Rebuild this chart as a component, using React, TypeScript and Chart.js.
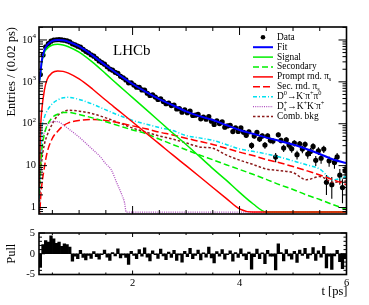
import React, { useEffect, useRef } from 'react';
import { Chart, registerables } from 'chart.js';

Chart.register(...registerables);

const FONT = "'Liberation Serif', 'Times New Roman', Times, serif";

// ---------- top panel: fit components (Entries / 0.02 ps) ----------
const CURVE_T = [0.25, 0.28, 0.3, 0.35, 0.4, 0.5, 0.6, 0.7, 0.8, 1.0, 1.25, 1.5, 1.75, 2.0, 2.25, 2.5, 2.75, 3.0, 3.25, 3.5, 3.75, 4.0, 4.25, 4.5, 4.75, 5.0, 5.25, 5.5, 5.75, 6.0];
const FIT = [950, 1800, 3100, 5700, 7500, 9500, 10000, 9800, 9100, 7000, 4300, 2450, 1460, 890, 575, 386, 276, 198, 152, 123, 93, 71, 57.5, 46.7, 38.8, 32, 25, 19, 14, 11.5];
const SIGNAL = [900, 1600, 2800, 5000, 6300, 7600, 7900, 7600, 6900, 5100, 2950, 1550, 800, 420, 220, 115, 60, 32, 16.6, 8.5, 4.5, 2.3, 1.23, 0.78, 0.78, 0.78, 0.78, 0.78, 0.78, 0.78];
const SECONDARY = [2, 10, 22, 56, 89, 141, 170, 186, 186, 166, 138, 112, 89, 71, 58, 43, 32, 24, 18, 13.8, 10.5, 8.1, 6.2, 4.7, 3.5, 2.7, 2.0, 1.55, 1.17, 0.9];
const PROMPT_RND = [3, 80, 200, 630, 1120, 1660, 1820, 1780, 1620, 1175, 676, 363, 200, 110, 60, 33, 18, 10, 5.5, 3.0, 1.66, 0.93, 0.78, 0.78, 0.78, 0.78, 0.78, 0.78, 0.78, 0.78];
const SEC_RND = [0.3, 1.6, 3.2, 9, 20, 45, 66, 89, 105, 120, 126, 120, 105, 89, 76, 63, 54, 45, 38, 32, 26, 21, 17.4, 14, 11.7, 9.5, 7.6, 6.0, 4.6, 3.5];
const D0_KPIPI0 = [1, 16, 63, 141, 200, 300, 370, 417, 427, 380, 295, 214, 158, 120, 98, 81, 69, 52, 46, 40, 32, 25, 22, 19, 16, 13, 10.5, 8.3, 4.6, 5.5];
const COMB_BKG = [0.5, 6, 12.6, 32, 52, 100, 158, 190, 209, 200, 174, 138, 105, 79, 63, 51, 43, 35, 28, 26, 18, 13.5, 10.7, 8.3, 7.6, 6.8, 4.6, 5.5, 4.0, 4.3];
const DS_T = [0.25, 0.28, 0.3, 0.35, 0.4, 0.5, 0.6, 0.7, 0.8, 1.0, 1.2, 1.4, 1.5, 1.6, 1.7, 1.8, 1.85, 1.88, 6.0];
const DS_KKPI = [2, 16, 32, 63, 89, 112, 112, 95, 76, 48, 28, 16, 11, 8, 4, 2, 1.3, 0.78, 0.78];

// ---------- data histogram and pulls ----------
const BIN_START = 0.25;
const BIN_WIDTH = 0.05;
const DATA = [1497, 4363, 6829, 8210, 9367, 9983, 10129, 10229, 10019, 9845,
  9482, 8960, 8077, 7677, 7118, 6725, 5970, 5369, 4952, 4436,
  4092, 3588, 3166, 2889, 2636, 2291, 2027, 1903, 1689, 1587,
  1353, 1249, 1110, 947, 952, 839, 747, 742, 640, 635,
  534, 473, 487, 432, 380, 395, 340, 302, 312, 271,
  280, 225, 229, 189, 214, 183, 201, 158, 160, 167,
  131, 145, 128, 149, 115, 96, 118, 101, 111, 83,
  88.5, 92, 65, 79.5, 65.2, 79.5, 62.6, 52.8, 64.4, 30.3,
  51.2, 62, 43.2, 51.1, 31, 51.2, 40.2, 38.7, 16, 54.6,
  40, 26.3, 41.1, 31, 25.2, 34.6, 18.3, 33.1, 24.8, 32.2,
  18.9, 21.6, 28.8, 13.4, 22.6, 15, 24.9, 4, 13, 3.5,
  11.9, 16.1, 5.9, 3, 7.6];
const PULL = [-3.3, 2.2, 3.2, 2.8, 4.3, 3.6, 2.5, 2.8, 1.8, 2.4,
  2.2, 1.6, -1.8, -0.6, -1.2, 0.8, -0.9, -1.5, -0.4, -1.1,
  0.5, -0.7, -1.3, -0.2, 0.9, -0.8, -1.6, 0.3, -0.5, 1.2,
  -1.0, -0.3, -0.9, -2.6, 0.6, -0.4, -1.2, 1.0, -0.6, 1.4,
  -0.8, -1.7, 0.7, -0.2, -1.1, 1.1, -0.5, -1.4, 0.4, -0.9,
  0.8, -1.6, -0.3, -2.0, 0.6, -0.7, 1.3, -1.2, -0.4, 0.9,
  -1.5, 0.2, -0.8, 1.6, -1.0, -2.2, 0.5, -0.6, 1.0, -1.3,
  -0.2, 0.7, -1.8, 0.3, -0.9, 1.2, -0.5, -1.4, 0.4, -3.7,
  -0.7, 1.1, -1.2, 0.2, -2.4, 0.8, -0.6, -0.6, -3.9, 2.4,
  0.3, -1.7, 1.0, -0.5, -1.3, 0.6, -2.1, 0.9, -0.4, 1.3,
  -1.1, -0.3, 1.5, -1.6, 0.7, -0.8, 1.8, -3.4, -0.6, -3.8,
  -0.5, 0.8, -1.9, -3.6, -1.2];

// ---------- axes ----------
const X_MIN = 0.25;
const X_MAX = 6;
const Y_MIN = 0.72;
const Y_MAX = 20400;
const PULL_MIN = -5;
const PULL_MAX = 5;
const X_TICKS = [2, 4, 6];
const X_TICK_LABELS = ['2', '4', '6'];
const X_MINOR = [0.5, 1, 1.5, 2.5, 3, 3.5, 4.5, 5, 5.5];
const Y_TICKS = [1, 10, 100, 1000, 10000];
const Y_TICK_LABELS = ['1', '10', '10^{2}', '10^{3}', '10^{4}'];
const PULL_TICKS = [-5, 0, 5];
const PULL_TICK_LABELS = ['-5', '0', '5'];
const PULL_MINOR = [-4, -3, -2, -1, 1, 2, 3, 4];
const Y_TITLE = 'Entries / (0.02 ps)';
const PULL_TITLE = 'Pull';
const X_TITLE = 't [ps]';
const EXPERIMENT = 'LHCb';

const LEGEND_LABELS = ['Data', 'Fit', 'Signal', 'Secondary', 'Prompt rnd. \u03c0_{s}', 'Sec. rnd. \u03c0_{s}',
  'D^{0}\u2192K^{-}\u03c0^{+}\u03c0^{0}', 'D_{s}^{+}\u2192K^{+}K^{-}\u03c0^{+}', 'Comb. bkg'];

const Y_MINOR: number[] = [];
for (const d of [0.1, 1, 10, 100, 1000, 10000]) {
  for (let k = 2; k <= 9; k++) {
    const v = k * d;
    if (v > Y_MIN && v < Y_MAX) Y_MINOR.push(v);
  }
}

const binCenter = (i: number) => BIN_START + BIN_WIDTH * (i + 0.5);

// ---------- rich text (sup / sub) ----------
type Seg = { t: string; k: 'n' | 'sup' | 'sub' };
function parseRich(s: string): Seg[] {
  const out: Seg[] = [];
  let buf = '';
  let i = 0;
  while (i < s.length) {
    const c = s[i];
    if ((c === '^' || c === '_') && s[i + 1] === '{') {
      if (buf) { out.push({ t: buf, k: 'n' }); buf = ''; }
      const end = s.indexOf('}', i + 2);
      out.push({ t: s.slice(i + 2, end), k: c === '^' ? 'sup' : 'sub' });
      i = end + 1;
    } else {
      buf += c;
      i++;
    }
  }
  if (buf) out.push({ t: buf, k: 'n' });
  return out;
}
function drawRich(ctx: CanvasRenderingContext2D, s: string, x: number, y: number, size: number, align: string) {
  const segs = parseRich(s);
  const small = size * 0.68;
  const items: any[] = [];
  let cx = 0;
  segs.forEach((sg, j) => {
    const fs = sg.k === 'n' ? size : small;
    ctx.font = `${fs}px ${FONT}`;
    const w = ctx.measureText(sg.t).width;
    if (sg.k === 'sup' && j > 0 && segs[j - 1].k === 'sub') {
      const prev = items[items.length - 1];
      items.push({ sg, fs, x: prev.x });
      cx = Math.max(cx, prev.x + w);
    } else {
      items.push({ sg, fs, x: cx });
      cx += w;
    }
  });
  const x0 = align === 'right' ? x - cx : align === 'center' ? x - cx / 2 : x;
  ctx.textAlign = 'left';
  ctx.textBaseline = 'middle';
  for (const it of items) {
    ctx.font = `${it.fs}px ${FONT}`;
    const dy = it.sg.k === 'sup' ? -size * 0.36 : it.sg.k === 'sub' ? size * 0.3 : 0;
    ctx.fillText(it.sg.t, x0 + it.x, y + dy);
  }
}

// ---------- ROOT-like frame plugin ----------
function framePlugin(cfg: any) {
  return {
    id: 'rootFrame',
    beforeDatasetsDraw(chart: any) {
      if (!cfg.errors) return;
      const { ctx, chartArea: a, scales } = chart;
      const xs = scales.x, ys = scales.y;
      ctx.save();
      ctx.beginPath();
      ctx.rect(a.left, a.top, a.right - a.left, a.bottom - a.top);
      ctx.clip();
      ctx.strokeStyle = '#000';
      ctx.lineWidth = 1.1;
      ctx.beginPath();
      DATA.forEach((v, i) => {
        const e = Math.sqrt(v);
        const px = xs.getPixelForValue(binCenter(i));
        ctx.moveTo(px, ys.getPixelForValue(Math.max(v - e, Y_MIN)));
        ctx.lineTo(px, ys.getPixelForValue(v + e));
      });
      ctx.stroke();
      ctx.restore();
    },
    afterDatasetsDraw(chart: any) {
      const { ctx, chartArea: a, scales } = chart;
      const xs = scales.x, ys = scales.y;
      ctx.save();
      ctx.setLineDash([]);
      ctx.strokeStyle = '#000';
      ctx.lineWidth = 1;
      ctx.beginPath();
      const vx = (v: number, len: number) => {
        const p = xs.getPixelForValue(v);
        ctx.moveTo(p, a.bottom); ctx.lineTo(p, a.bottom - len);
        ctx.moveTo(p, a.top); ctx.lineTo(p, a.top + len);
      };
      const hy = (v: number, len: number) => {
        const p = ys.getPixelForValue(v);
        ctx.moveTo(a.left, p); ctx.lineTo(a.left + len, p);
        ctx.moveTo(a.right, p); ctx.lineTo(a.right - len, p);
      };
      cfg.xMajor.forEach((v: number) => vx(v, cfg.xMajLen));
      cfg.xMinor.forEach((v: number) => vx(v, cfg.xMinLen));
      cfg.yMajor.forEach((v: number) => hy(v, cfg.yMajLen));
      cfg.yMinor.forEach((v: number) => hy(v, cfg.yMinLen));
      ctx.stroke();
      ctx.lineWidth = 1.6;
      ctx.strokeRect(a.left, a.top, a.right - a.left, a.bottom - a.top);
      ctx.fillStyle = '#000';
      if (cfg.xLabels) {
        cfg.xMajor.forEach((v: number, i: number) =>
          drawRich(ctx, cfg.xLabels[i], xs.getPixelForValue(v), a.bottom + cfg.xLabelGap, 10.5, 'center'));
      }
      cfg.yMajor.forEach((v: number, i: number) =>
        drawRich(ctx, cfg.yLabels[i], a.left - cfg.yLabelGap, ys.getPixelForValue(v), 10.5, 'right'));
      if (cfg.extra) cfg.extra(ctx, a, chart);
      ctx.restore();
    },
  };
}

const pts = (ts: number[], vs: number[]) => ts.map((t, i) => ({ x: t, y: vs[i] }));
const curve = (label: string, ts: number[], vs: number[], color: string, dash: number[], width: number, order: number) => ({
  type: 'line',
  label,
  data: pts(ts, vs),
  borderColor: color,
  backgroundColor: color,
  borderWidth: width,
  borderDash: dash,
  pointRadius: 0,
  fill: false,
  cubicInterpolationMode: 'monotone',
  order,
});

function topConfig(): any {
  const datasets: any[] = [
    curve(LEGEND_LABELS[1], CURVE_T, FIT, '#0000ff', [], 2, 0),
    curve(LEGEND_LABELS[2], CURVE_T, SIGNAL, '#00ee00', [], 1.5, 2),
    curve(LEGEND_LABELS[3], CURVE_T, SECONDARY, '#00ee00', [6, 3], 1.5, 3),
    curve(LEGEND_LABELS[4], CURVE_T, PROMPT_RND, '#ff0000', [], 1.5, 1),
    curve(LEGEND_LABELS[5], CURVE_T, SEC_RND, '#ff0000', [7, 3], 1.5, 4),
    curve(LEGEND_LABELS[6], CURVE_T, D0_KPIPI0, '#00e0f0', [4, 2, 1, 2], 1.5, 5),
    curve(LEGEND_LABELS[7], DS_T, DS_KKPI, '#b050c0', [1, 1.2], 1.3, 6),
    curve(LEGEND_LABELS[8], CURVE_T, COMB_BKG, '#8b1a1a', [2.5, 2], 1.5, 7),
    {
      type: 'line',
      label: LEGEND_LABELS[0],
      data: DATA.map((v, i) => ({ x: binCenter(i), y: v })),
      showLine: false,
      pointRadius: 2.6,
      pointBackgroundColor: '#000',
      pointBorderColor: '#000',
      pointBorderWidth: 0,
      order: 9,
    },
  ];
  const extra = (ctx: CanvasRenderingContext2D, a: any, chart: any) => {
    ctx.save();
    ctx.translate(12, a.top);
    ctx.rotate(-Math.PI / 2);
    ctx.font = `12.5px ${FONT}`;
    ctx.textAlign = 'right';
    ctx.textBaseline = 'middle';
    ctx.fillText(Y_TITLE, 0, 0);
    ctx.restore();

    ctx.font = `15px ${FONT}`;
    ctx.textAlign = 'left';
    ctx.textBaseline = 'alphabetic';
    ctx.fillText(EXPERIMENT, 113, 55);

    // legend
    LEGEND_LABELS.forEach((lab, k) => {
      const y = 37.3 + 9.9 * k;
      const ds = chart.data.datasets.find((d: any) => d.label === lab);
      if (k === 0) {
        ctx.beginPath();
        ctx.fillStyle = '#000';
        ctx.arc(263, y, 2.3, 0, Math.PI * 2);
        ctx.fill();
      } else if (ds) {
        ctx.save();
        ctx.strokeStyle = ds.borderColor;
        ctx.lineWidth = ds.borderWidth;
        ctx.setLineDash(ds.borderDash || []);
        ctx.beginPath();
        ctx.moveTo(253, y);
        ctx.lineTo(273, y);
        ctx.stroke();
        ctx.restore();
      }
      ctx.fillStyle = '#000';
      drawRich(ctx, lab, 277, y, 9.4, 'left');
    });
  };
  return {
    type: 'line',
    data: { datasets },
    options: {
      animation: false,
      responsive: false,
      events: [],
      layout: { padding: { top: 27, right: 22.5, left: 0, bottom: 0 } },
      plugins: { legend: { display: false }, tooltip: { enabled: false } },
      scales: {
        x: {
          type: 'linear', min: X_MIN, max: X_MAX,
          ticks: { display: false }, grid: { display: false }, border: { display: false },
          afterFit: (s: any) => { s.height = 8; },
        },
        y: {
          type: 'logarithmic', min: Y_MIN, max: Y_MAX,
          ticks: { display: false }, grid: { display: false }, border: { display: false },
          afterFit: (s: any) => { s.width = 39; },
        },
      },
    },
    plugins: [framePlugin({
      errors: true,
      xMajor: X_TICKS, xMinor: X_MINOR, xMajLen: 8, xMinLen: 4,
      yMajor: Y_TICKS, yMinor: Y_MINOR, yMajLen: 8, yMinLen: 4,
      yLabels: Y_TICK_LABELS, yLabelGap: 3,
      extra,
    })],
  };
}

function bottomConfig(): any {
  const extra = (ctx: CanvasRenderingContext2D, a: any) => {
    ctx.save();
    ctx.translate(12, (a.top + a.bottom) / 2);
    ctx.rotate(-Math.PI / 2);
    ctx.font = `12.5px ${FONT}`;
    ctx.textAlign = 'center';
    ctx.textBaseline = 'middle';
    ctx.fillText(PULL_TITLE, 0, 0);
    ctx.restore();
    ctx.font = `12.5px ${FONT}`;
    ctx.textAlign = 'right';
    ctx.textBaseline = 'middle';
    ctx.fillText(X_TITLE, a.right + 1, a.bottom + 17.5);
  };
  return {
    type: 'bar',
    data: {
      datasets: [{
        data: PULL.map((p, i) => ({ x: binCenter(i), y: p })),
        backgroundColor: '#000',
        borderColor: '#000',
        borderWidth: 0,
        barPercentage: 1,
        categoryPercentage: 1,
      }],
    },
    options: {
      animation: false,
      responsive: false,
      events: [],
      layout: { padding: { top: 11, right: 22.5, left: 0, bottom: 0 } },
      plugins: { legend: { display: false }, tooltip: { enabled: false } },
      scales: {
        x: {
          type: 'linear', min: X_MIN, max: X_MAX, offset: false,
          ticks: { display: false }, grid: { display: false, offset: false }, border: { display: false },
          afterFit: (s: any) => { s.height = 30.5; },
        },
        y: {
          type: 'linear', min: PULL_MIN, max: PULL_MAX,
          ticks: { display: false }, grid: { display: false }, border: { display: false },
          afterFit: (s: any) => { s.width = 39; },
        },
      },
    },
    plugins: [framePlugin({
      errors: false,
      xMajor: X_TICKS, xMinor: X_MINOR, xMajLen: 4, xMinLen: 2,
      yMajor: PULL_TICKS, yMinor: PULL_MINOR, yMajLen: 6, yMinLen: 3,
      xLabels: X_TICK_LABELS, xLabelGap: 8.5,
      yLabels: PULL_TICK_LABELS, yLabelGap: 4,
      extra,
    })],
  };
}

export default function App() {
  const topRef = useRef<HTMLCanvasElement>(null);
  const botRef = useRef<HTMLCanvasElement>(null);
  useEffect(() => {
    const top = new Chart(topRef.current as HTMLCanvasElement, topConfig());
    const bot = new Chart(botRef.current as HTMLCanvasElement, bottomConfig());
    return () => { top.destroy(); bot.destroy(); };
  }, []);
  return (
    <div style={{ position: 'absolute', left: 0, top: 0, width: 369, height: 305, background: '#fff' }}>
      <canvas ref={topRef} width={369} height={222}
        style={{ position: 'absolute', left: 0, top: 0, width: 369, height: 222 }} />
      <canvas ref={botRef} width={369} height={83}
        style={{ position: 'absolute', left: 0, top: 222, width: 369, height: 83 }} />
    </div>
  );
}
